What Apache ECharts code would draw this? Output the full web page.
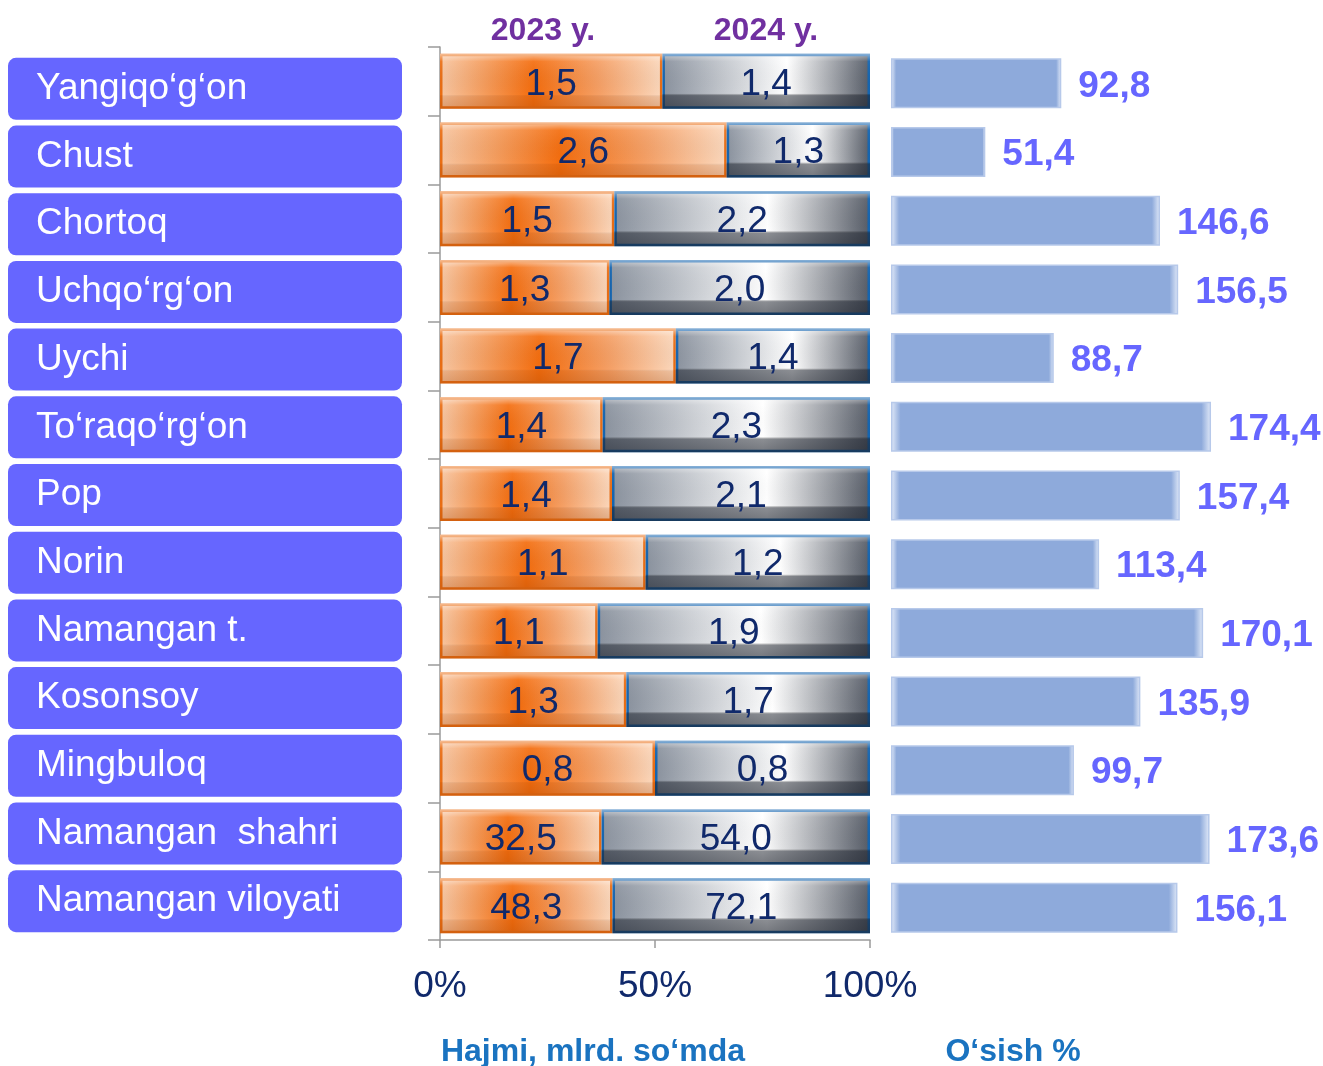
<!DOCTYPE html>
<html>
<head>
<meta charset="utf-8">
<script src="https://cdn.jsdelivr.net/npm/echarts@6/dist/echarts.min.js"></script>
<style>
  html, body {margin: 0; padding: 0; background: #fff;}
  #chart {width: 1323px; height: 1066px;}
</style>
</head>
<body>
<div id="chart"></div>
<script>
const categories = ['Yangiqo‘g‘on', 'Chust', 'Chortoq', 'Uchqo‘rg‘on', 'Uychi', 'To‘raqo‘rg‘on', 'Pop',
  'Norin', 'Namangan t.', 'Kosonsoy', 'Mingbuloq', 'Namangan  shahri', 'Namangan viloyati'];
const values2023 = [1.5, 2.6, 1.5, 1.3, 1.7, 1.4, 1.4, 1.1, 1.1, 1.3, 0.8, 32.5, 48.3];
const values2024 = [1.4, 1.3, 2.2, 2.0, 1.4, 2.3, 2.1, 1.2, 1.9, 1.7, 0.8, 54.0, 72.1];
const growth = [92.8, 51.4, 146.6, 156.5, 88.7, 174.4, 157.4, 113.4, 170.1, 135.9, 99.7, 173.6, 156.1];
const percentTicks = [0, 50, 100];

const FONT = '"Liberation Sans", Arial, sans-serif';
const NAVY = '#10296b';

// share of each year in the 100% bar
let share2023 = values2023.map((v, i) => v / (v + values2024[i]) * 100);
let share2024 = values2024.map((v, i) => v / (v + values2023[i]) * 100);

const fmt = (v) => v.toFixed(1).replace('.', ',');

let grad = (x2, y2, stops) => ({
  type: 'linear', x: 0, y: 0, x2: x2, y2: y2,
  colorStops: stops.map(s => ({offset: s[0], color: s[1]}))
});

let orangeFill = grad(1, 0, [[0, '#f7c6a2'], [0.2, '#f59c5c'], [0.42, '#f46d0e'], [0.72, '#f5a066'], [1, '#fbd8bd']]);
let grayFill = grad(1, 0, [[0, '#8a929e'], [0.6, '#ffffff'], [1, '#555b66']]);
let orangeBevel = grad(0, 1, [[0, 'rgba(255,255,255,0.55)'], [0.14, 'rgba(255,255,255,0.08)'],
  [0.74, 'rgba(0,0,0,0)'], [0.78, 'rgba(150,60,0,0.15)'], [1, 'rgba(150,60,0,0.28)']]);
let grayBevel = grad(0, 1, [[0, 'rgba(255,255,255,0.5)'], [0.14, 'rgba(255,255,255,0.05)'],
  [0.72, 'rgba(0,0,0,0)'], [0.76, 'rgba(25,30,40,0.5)'], [1, 'rgba(25,30,40,0.6)']]);
let blueFill = grad(1, 0, [[0, '#e3ebf9'], [0.03, '#8eaadb'], [0.97, '#8eaadb'], [1, '#e3ebf9']]);

let chart = echarts.init(document.getElementById('chart'));

let option = {
  animation: false,
  textStyle: {fontFamily: FONT},
  title: [
    {text: '2023 y.', left: 538, top: 10, textAlign: 'center',
      textStyle: {fontSize: 32, fontWeight: 'bold', color: '#7030a0', fontFamily: FONT}},
    {text: '2024 y.', left: 761, top: 10, textAlign: 'center',
      textStyle: {fontSize: 32, fontWeight: 'bold', color: '#7030a0', fontFamily: FONT}},
    {text: 'Hajmi, mlrd. so‘mda', left: 588, top: 1031, textAlign: 'center',
      textStyle: {fontSize: 32, fontWeight: 'bold', color: '#1a73c0', fontFamily: FONT}},
    {text: 'O‘sish %', left: 1008, top: 1031, textAlign: 'center',
      textStyle: {fontSize: 32, fontWeight: 'bold', color: '#1a73c0', fontFamily: FONT}}
  ],
  grid: [
    {left: 440, right: 453, top: 47, bottom: 126},
    {left: 891, right: 65, top: 49, bottom: 124},
    // the name boxes sit on a slightly tighter pitch than the bars
    {left: 440, right: 453, top: 55, bottom: 131}
  ],
  xAxis: [
    {
      type: 'value', gridIndex: 0, min: 0, max: 100, interval: 50,
      axisLine: {show: true, lineStyle: {color: '#9a9a9a', width: 1.5}},
      axisTick: {show: true, length: 8, lineStyle: {color: '#9a9a9a', width: 1.5}},
      splitLine: {show: false},
      axisLabel: {
        margin: 28, fontSize: 37, color: NAVY, fontFamily: FONT,
        formatter: (v) => percentTicks.indexOf(v) >= 0 ? v + '%' : ''
      }
    },
    {type: 'value', gridIndex: 1, min: 0, max: 200, show: false},
    {type: 'value', gridIndex: 2, min: 0, max: 1, show: false}
  ],
  yAxis: [
    {
      type: 'category', gridIndex: 0, data: categories, inverse: true,
      axisLine: {show: true, lineStyle: {color: '#9a9a9a', width: 1.5}},
      axisTick: {show: true, length: 12, lineStyle: {color: '#9a9a9a', width: 1.5}},
      axisLabel: {show: false}
    },
    {type: 'category', gridIndex: 1, data: categories, inverse: true, show: false},
    {
      type: 'category', gridIndex: 2, data: categories, inverse: true,
      axisLine: {show: false},
      axisTick: {show: false},
      axisLabel: {
        margin: 38,
        formatter: (v) => '{b|' + v + '}',
        rich: {
          b: {
            width: 366, height: 62, padding: [0, 0, 0, 28], align: 'left',
            backgroundColor: '#6666ff', borderRadius: 8,
            color: '#fff', fontSize: 37, fontFamily: FONT
          }
        }
      }
    }
  ],
  series: [
    {
      name: '2023 y.', type: 'bar', stack: 'base', xAxisIndex: 0, yAxisIndex: 0,
      data: share2023, barWidth: 55, barGap: '-100%',
      itemStyle: {color: orangeFill, borderColor: '#ea6e14', borderWidth: 2.5}
    },
    {
      name: '2024 y.', type: 'bar', stack: 'base', xAxisIndex: 0, yAxisIndex: 0,
      data: share2024, barWidth: 55,
      itemStyle: {color: grayFill, borderColor: '#1565b0', borderWidth: 2.5}
    },
    // bevel layer on top, also carries the value labels
    {
      type: 'bar', stack: 'top', xAxisIndex: 0, yAxisIndex: 0, silent: true,
      data: share2023, barWidth: 55,
      itemStyle: {color: orangeBevel},
      label: {
        show: true, position: 'inside', offset: [0, 3], fontSize: 37, color: NAVY, fontFamily: FONT,
        formatter: (p) => fmt(values2023[p.dataIndex])
      }
    },
    {
      type: 'bar', stack: 'top', xAxisIndex: 0, yAxisIndex: 0, silent: true,
      data: share2024, barWidth: 55,
      itemStyle: {color: grayBevel},
      label: {
        show: true, position: 'inside', offset: [0, 3], fontSize: 37, color: NAVY, fontFamily: FONT,
        formatter: (p) => fmt(values2024[p.dataIndex])
      }
    },
    {
      name: 'O‘sish %', type: 'bar', xAxisIndex: 1, yAxisIndex: 1,
      data: growth, barWidth: 50,
      itemStyle: {color: blueFill, borderColor: '#b7c9ea', borderWidth: 1.5},
      label: {
        show: true, position: 'right', distance: 17, offset: [0, 3],
        fontSize: 37, fontWeight: 'bold', color: '#6666ff', fontFamily: FONT,
        formatter: (p) => fmt(p.value)
      }
    }
  ]
};

chart.setOption(option);
</script>
</body>
</html>
